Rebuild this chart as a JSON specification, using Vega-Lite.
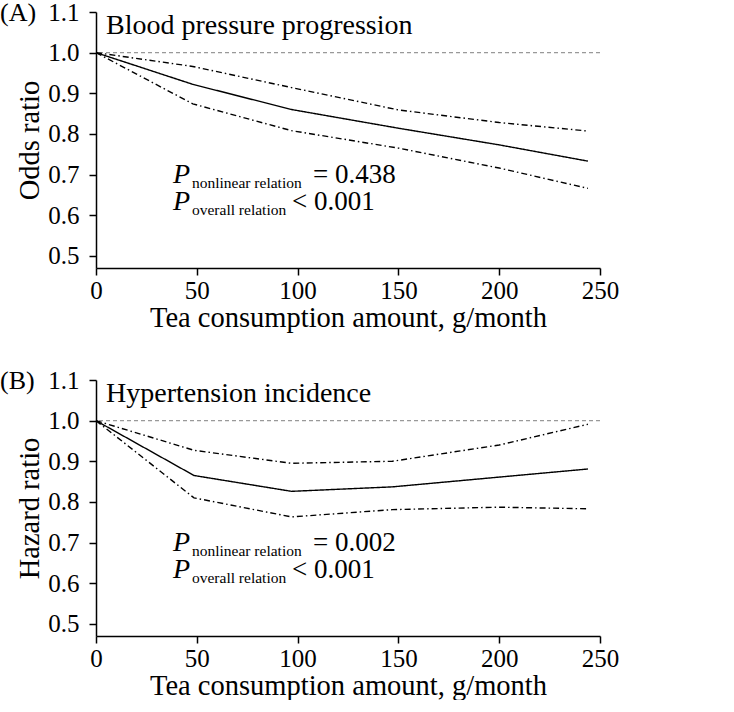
{
  "$schema": "https://vega.github.io/schema/vega-lite/v6.json",
  "padding": 0,
  "background": "white",
  "config": {
    "font": "Liberation Serif",
    "view": {"stroke": null},
    "axis": {
      "grid": false,
      "domainColor": "#000",
      "domainWidth": 1.5,
      "tickColor": "#000",
      "tickWidth": 1.5,
      "tickSize": 7,
      "labelFont": "Liberation Serif",
      "labelFontSize": 25,
      "labelColor": "#000",
      "labelFlush": false,
      "labelOverlap": false,
      "titleFont": "Liberation Serif",
      "titleFontSize": 28.5,
      "titleFontWeight": "normal",
      "titleColor": "#000"
    },
    "title": {"font": "Liberation Serif", "fontSize": 26, "fontWeight": "normal", "color": "#000"}
  },
  "datasets": {
    "A_lines": [
      {"x": 0, "y": 1.0, "band": "estimate"},
      {"x": 48, "y": 0.922, "band": "estimate"},
      {"x": 97, "y": 0.86, "band": "estimate"},
      {"x": 150, "y": 0.814, "band": "estimate"},
      {"x": 200, "y": 0.773, "band": "estimate"},
      {"x": 244, "y": 0.733, "band": "estimate"},
      {"x": 0, "y": 1.0, "band": "upper"},
      {"x": 48, "y": 0.966, "band": "upper"},
      {"x": 97, "y": 0.914, "band": "upper"},
      {"x": 150, "y": 0.859, "band": "upper"},
      {"x": 200, "y": 0.828, "band": "upper"},
      {"x": 244, "y": 0.807, "band": "upper"},
      {"x": 0, "y": 1.0, "band": "lower"},
      {"x": 48, "y": 0.874, "band": "lower"},
      {"x": 97, "y": 0.808, "band": "lower"},
      {"x": 150, "y": 0.765, "band": "lower"},
      {"x": 200, "y": 0.716, "band": "lower"},
      {"x": 244, "y": 0.666, "band": "lower"}
    ],
    "B_lines": [
      {"x": 0, "y": 1.0, "band": "estimate"},
      {"x": 48.6, "y": 0.865, "band": "estimate"},
      {"x": 97, "y": 0.826, "band": "estimate"},
      {"x": 147, "y": 0.837, "band": "estimate"},
      {"x": 244, "y": 0.881, "band": "estimate"},
      {"x": 0, "y": 1.0, "band": "upper"},
      {"x": 48.6, "y": 0.927, "band": "upper"},
      {"x": 97, "y": 0.895, "band": "upper"},
      {"x": 147, "y": 0.9, "band": "upper"},
      {"x": 200, "y": 0.94, "band": "upper"},
      {"x": 244, "y": 0.991, "band": "upper"},
      {"x": 0, "y": 1.0, "band": "lower"},
      {"x": 48.6, "y": 0.81, "band": "lower"},
      {"x": 97, "y": 0.763, "band": "lower"},
      {"x": 147, "y": 0.781, "band": "lower"},
      {"x": 200, "y": 0.787, "band": "lower"},
      {"x": 244, "y": 0.783, "band": "lower"}
    ],
    "A_text": [
      {"x": 5, "y": 1.045, "text": "Blood pressure progression", "role": "heading"},
      {"x": 38.2, "y": 0.678, "text": "P", "role": "p"},
      {"x": 38.2, "y": 0.6126, "text": "P", "role": "p"},
      {"x": 47.6, "y": 0.666, "text": "nonlinear relation", "role": "sub"},
      {"x": 47.6, "y": 0.6, "text": "overall relation", "role": "sub"},
      {"x": 107.6, "y": 0.678, "text": "= 0.438", "role": "value"},
      {"x": 97.2, "y": 0.6126, "text": "< 0.001", "role": "value"}
    ],
    "B_text": [
      {"x": 5, "y": 1.045, "text": "Hypertension incidence", "role": "heading"},
      {"x": 38.2, "y": 0.678, "text": "P", "role": "p"},
      {"x": 38.2, "y": 0.6126, "text": "P", "role": "p"},
      {"x": 47.6, "y": 0.666, "text": "nonlinear relation", "role": "sub"},
      {"x": 47.6, "y": 0.6, "text": "overall relation", "role": "sub"},
      {"x": 107.6, "y": 0.678, "text": "= 0.002", "role": "value"},
      {"x": 97.2, "y": 0.6126, "text": "< 0.001", "role": "value"}
    ]
  },
  "spacing": 36,
  "vconcat": [
    {
      "title": {"text": "(A)", "anchor": "start", "frame": "group", "orient": "top", "baseline": "alphabetic", "offset": -40, "dx": -96, "dy": 7},
      "width": 504,
      "height": 256,
      "layer": [
        {
          "data": {"values": [{"ref": 1}]},
          "mark": {"type": "rule", "color": "#999999", "strokeDash": [4, 3], "strokeWidth": 1.2},
          "encoding": {"y": {"field": "ref", "type": "quantitative", "scale": {"domain": [0.47, 1.1], "nice": false, "zero": false}}}
        },
        {
          "data": {"name": "A_lines"},
          "mark": {"type": "line", "color": "#000", "strokeWidth": 1.4},
          "encoding": {
            "x": {"field": "x", "type": "quantitative", "scale": {"domain": [0, 250], "nice": false}, "axis": {"values": [0, 50, 100, 150, 200, 250], "title": "Tea consumption amount, g/month", "labelPadding": 3, "titlePadding": 0}},
            "y": {"field": "y", "type": "quantitative", "scale": {"domain": [0.47, 1.1], "nice": false, "zero": false}, "axis": {"values": [0.5, 0.6, 0.7, 0.8, 0.9, 1.0, 1.1], "format": ".1f", "title": "Odds ratio", "labelPadding": 10, "titlePadding": 3}},
            "detail": {"field": "band"},
            "strokeDash": {"field": "band", "type": "nominal", "scale": {"domain": ["estimate", "lower", "upper"], "range": [[1, 0], [6, 3, 1.5, 3], [6, 3, 1.5, 3]]}, "legend": null}
          }
        },
        {
          "data": {"name": "A_text"},
          "transform": [{"filter": "datum.role == 'heading'"}],
          "mark": {"type": "text", "align": "left", "baseline": "alphabetic", "fontSize": 28, "color": "#000"},
          "encoding": {"x": {"field": "x", "type": "quantitative"}, "y": {"field": "y", "type": "quantitative"}, "text": {"field": "text"}}
        },
        {
          "data": {"name": "A_text"},
          "transform": [{"filter": "datum.role == 'p'"}],
          "mark": {"type": "text", "align": "left", "baseline": "alphabetic", "fontSize": 28, "fontStyle": "italic", "color": "#000"},
          "encoding": {"x": {"field": "x", "type": "quantitative"}, "y": {"field": "y", "type": "quantitative"}, "text": {"field": "text"}}
        },
        {
          "data": {"name": "A_text"},
          "transform": [{"filter": "datum.role == 'sub'"}],
          "mark": {"type": "text", "align": "left", "baseline": "alphabetic", "fontSize": 15.5, "color": "#000"},
          "encoding": {"x": {"field": "x", "type": "quantitative"}, "y": {"field": "y", "type": "quantitative"}, "text": {"field": "text"}}
        },
        {
          "data": {"name": "A_text"},
          "transform": [{"filter": "datum.role == 'value'"}],
          "mark": {"type": "text", "align": "left", "baseline": "alphabetic", "fontSize": 27, "color": "#000"},
          "encoding": {"x": {"field": "x", "type": "quantitative"}, "y": {"field": "y", "type": "quantitative"}, "text": {"field": "text"}}
        }
      ]
    },
    {
      "title": {"text": "(B)", "anchor": "start", "frame": "group", "orient": "top", "baseline": "alphabetic", "offset": -40, "dx": -96, "dy": 7},
      "width": 504,
      "height": 256,
      "layer": [
        {
          "data": {"values": [{"ref": 1}]},
          "mark": {"type": "rule", "color": "#999999", "strokeDash": [4, 3], "strokeWidth": 1.2},
          "encoding": {"y": {"field": "ref", "type": "quantitative", "scale": {"domain": [0.47, 1.1], "nice": false, "zero": false}}}
        },
        {
          "data": {"name": "B_lines"},
          "mark": {"type": "line", "color": "#000", "strokeWidth": 1.4},
          "encoding": {
            "x": {"field": "x", "type": "quantitative", "scale": {"domain": [0, 250], "nice": false}, "axis": {"values": [0, 50, 100, 150, 200, 250], "title": "Tea consumption amount, g/month", "labelPadding": 3, "titlePadding": 0}},
            "y": {"field": "y", "type": "quantitative", "scale": {"domain": [0.47, 1.1], "nice": false, "zero": false}, "axis": {"values": [0.5, 0.6, 0.7, 0.8, 0.9, 1.0, 1.1], "format": ".1f", "title": "Hazard ratio", "labelPadding": 10, "titlePadding": 3}},
            "detail": {"field": "band"},
            "strokeDash": {"field": "band", "type": "nominal", "scale": {"domain": ["estimate", "lower", "upper"], "range": [[1, 0], [6, 3, 1.5, 3], [6, 3, 1.5, 3]]}, "legend": null}
          }
        },
        {
          "data": {"name": "B_text"},
          "transform": [{"filter": "datum.role == 'heading'"}],
          "mark": {"type": "text", "align": "left", "baseline": "alphabetic", "fontSize": 28, "color": "#000"},
          "encoding": {"x": {"field": "x", "type": "quantitative"}, "y": {"field": "y", "type": "quantitative"}, "text": {"field": "text"}}
        },
        {
          "data": {"name": "B_text"},
          "transform": [{"filter": "datum.role == 'p'"}],
          "mark": {"type": "text", "align": "left", "baseline": "alphabetic", "fontSize": 28, "fontStyle": "italic", "color": "#000"},
          "encoding": {"x": {"field": "x", "type": "quantitative"}, "y": {"field": "y", "type": "quantitative"}, "text": {"field": "text"}}
        },
        {
          "data": {"name": "B_text"},
          "transform": [{"filter": "datum.role == 'sub'"}],
          "mark": {"type": "text", "align": "left", "baseline": "alphabetic", "fontSize": 15.5, "color": "#000"},
          "encoding": {"x": {"field": "x", "type": "quantitative"}, "y": {"field": "y", "type": "quantitative"}, "text": {"field": "text"}}
        },
        {
          "data": {"name": "B_text"},
          "transform": [{"filter": "datum.role == 'value'"}],
          "mark": {"type": "text", "align": "left", "baseline": "alphabetic", "fontSize": 27, "color": "#000"},
          "encoding": {"x": {"field": "x", "type": "quantitative"}, "y": {"field": "y", "type": "quantitative"}, "text": {"field": "text"}}
        }
      ]
    }
  ]
}
